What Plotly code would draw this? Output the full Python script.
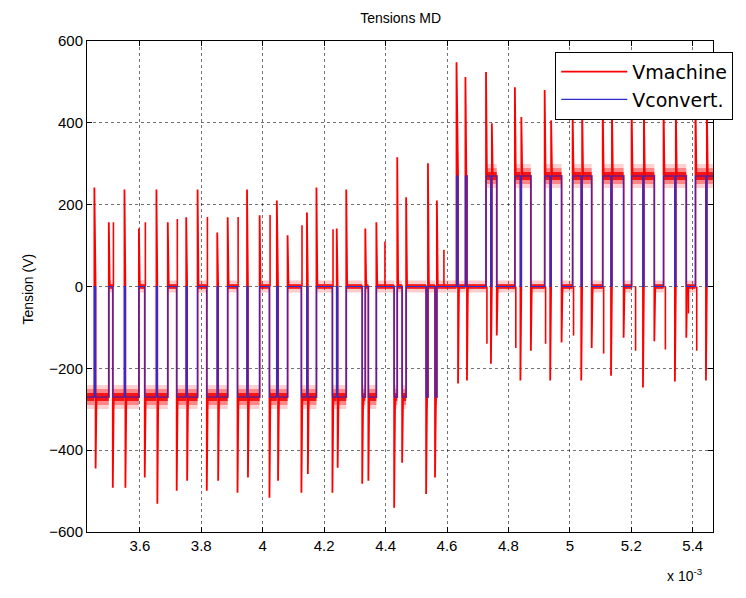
import plotly.graph_objects as go

# ---- data (time in ms, i.e. x 10^-3 s) ----
# intervals where the converter voltage is non-zero
seg_start = [3.400, 3.456, 3.512, 3.553, 3.616, 3.657, 3.720, 3.754, 3.818, 3.855,
             3.918, 3.952, 4.022, 4.050, 4.126, 4.147, 4.227, 4.244, 4.324, 4.344,
             4.428, 4.454, 4.532, 4.561,
             4.631, 4.660, 4.727, 4.746, 4.821, 4.842, 4.918, 4.939, 5.009, 5.040,
             5.107, 5.137, 5.201, 5.241, 5.305, 5.345, 5.409, 5.446]
seg_end = [3.452, 3.499, 3.550, 3.597, 3.654, 3.691, 3.751, 3.788, 3.852, 3.886,
           3.949, 3.990, 4.046, 4.081, 4.144, 4.175, 4.241, 4.272, 4.334, 4.370,
           4.438, 4.467, 4.538, 4.567,
           4.636, 4.665, 4.743, 4.762, 4.839, 4.873, 4.936, 4.973, 5.037, 5.071,
           5.134, 5.175, 5.238, 5.275, 5.342, 5.379, 5.443, 5.500]
seg_level = [-270] * 24 + [270] * 18
# machine voltage overshoot at the start / end edge of each interval
red_in = [None, -445, -492, -492, -467, -531, -499, -475, -499, -475,
          -504, -467, -516, -475, -504, -458, -504, -443, -482, -475,
          -541, -431, -507, -467,
          548, 512, 524, 399, 487, 414, 480, 406, 424, 440,
          450, 440, 450, 440, 450, 440, 450, 440]
red_out = [242, 157, 237, 142, 237, 157, 169, 237, 132, 169,
           237, 174, 210, 125, 181, 242, 142, 237, 142, 157,
           316, 218, 301, 210,
           -237, -230, -189, -120, -230, -157, -230, -137, -230, -150,
           -218, -125, -247, -134, -232, -125, -230, None]
# extra ringing spikes of the machine voltage
ring_t = [3.514, 3.618, 3.722, 3.820, 3.920, 4.024, 4.128, 4.229, 4.398, 4.590,
          5.110, 5.214, 5.311, 5.386, 5.413, 4.824, 4.921, 5.012, 4.730]
ring_v = [157, 157, 165, 170, 170, 175, 150, 140, 110, 90,
          -164, -157, -154, -66, -157, -150, -140, -120, -140]

x_ticks = [3.6, 3.8, 4.0, 4.2, 4.4, 4.6, 4.8, 5.0, 5.2, 5.4]
x_labels = ["3.6", "3.8", "4", "4.2", "4.4", "4.6", "4.8", "5", "5.2", "5.4"]
y_ticks = [-600, -400, -200, 0, 200, 400, 600]

RED = "rgb(255,0,0)"
BLUE = "rgb(45,45,205)"
d = 0.003

# ---- build traces from the arrays ----
bx, by = [], []
rx, ry = [], []
hx, hy = [], []
zx, zy = [], []
prev_end = 3.40
for s, e, L, pin, pout in zip(seg_start, seg_end, seg_level, red_in, red_out):
    if s > prev_end:
        zx += [prev_end, s, None]
        zy += [0, 0, None]
    prev_end = e
    hx += [s, e, None]
    hy += [L, L, None]
    if pin is None:
        bx += [s]
        by += [L]
        rx += [s]
        ry += [L]
    else:
        bx += [s, s]
        by += [0, L]
        rx += [s, s, s + d]
        ry += [0, pin, L]
    bx += [e, e]
    by += [L, 0]
    if pout is None:
        rx += [e]
        ry += [L]
    else:
        rx += [e, e, e + d]
        ry += [L, pout, 0]

kx, ky = [], []
for t, v in zip(ring_t, ring_v):
    kx += [t, t, None]
    ky += [0, v, None]

fig = go.Figure()
for w, a in [(24, 0.18), (16, 0.35), (8, 0.85)]:
    fig.add_trace(go.Scatter(x=hx, y=hy, mode="lines", line=dict(color=f"rgba(245,0,0,{a})", width=w),
                             showlegend=False, hoverinfo="skip"))
for w, a in [(12, 0.2), (5, 0.75)]:
    fig.add_trace(go.Scatter(x=zx, y=zy, mode="lines", line=dict(color=f"rgba(245,0,0,{a})", width=w),
                             showlegend=False, hoverinfo="skip"))
fig.add_trace(go.Scatter(x=kx, y=ky, mode="lines", line=dict(color=RED, width=1.6),
                         showlegend=False, hoverinfo="skip"))
fig.add_trace(go.Scatter(x=rx, y=ry, mode="lines", name="Vmachine", line=dict(color=RED, width=1.8)))
fig.add_trace(go.Scatter(x=bx, y=by, mode="lines", name="Vconvert.", line=dict(color=BLUE, width=1.2)))

axis_common = dict(showline=True, linecolor="black", linewidth=1, mirror="ticks", ticks="inside",
                   ticklen=5, tickcolor="black", showgrid=True, gridcolor="rgba(0,0,0,0.55)",
                   griddash="dot", gridwidth=1, zeroline=False,
                   tickfont=dict(family="Liberation Sans", size=15, color="black"))

# the page body adds an 8px offset, so the figure is 8px smaller than the window
fig.update_layout(
    width=738, height=590,
    margin=dict(l=79, r=33, t=33, b=66),
    paper_bgcolor="white", plot_bgcolor="white",
    title=dict(text="Tensions MD", x=0.532, xanchor="center", y=0.983, yanchor="middle",
               font=dict(family="Liberation Sans", size=14, color="black")),
    xaxis=dict(range=[3.428, 5.466], tickvals=x_ticks, ticktext=x_labels, **axis_common),
    yaxis=dict(range=[-600, 600], tickvals=y_ticks, **axis_common),
    legend=dict(x=0.748, y=0.978, xanchor="left", yanchor="top", bgcolor="white",
                bordercolor="black", borderwidth=1, itemwidth=66,
                font=dict(family="DejaVu Sans", size=19, color="black")),
    showlegend=True,
)
fig.add_annotation(text="Tension (V)", xref="paper", yref="paper", x=-0.094, y=0.494,
                   xanchor="center", yanchor="middle",
                   textangle=-90, showarrow=False,
                   font=dict(family="Liberation Sans", size=14, color="black"))
fig.add_annotation(text="x 10<sup>-3</sup>", xref="paper", yref="paper", x=0.923, y=-0.088,
                   xanchor="left", yanchor="middle",
                   showarrow=False, font=dict(family="Liberation Sans", size=14, color="black"))

fig.write_html("out.html")
